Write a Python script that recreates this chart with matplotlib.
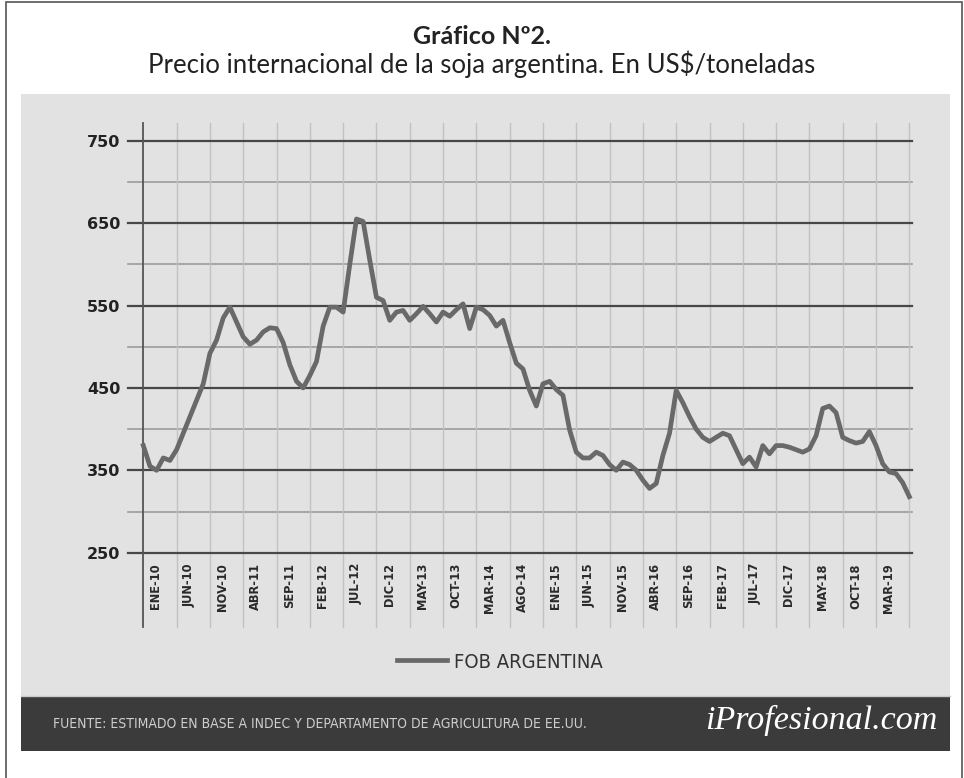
import matplotlib
matplotlib.use("Agg")
import matplotlib.pyplot as plt
from matplotlib.patches import Rectangle
from matplotlib.lines import Line2D
import numpy as np

# Monthly FOB price of Argentine soybeans, Jan-2010 .. Aug-2019 (US$/t)
prices = [
    380, 355, 350, 365, 362, 375, 395, 415, 435, 455,
    492, 508, 535, 548, 530, 512, 503, 508, 518, 523,
    522, 505, 478, 458, 450, 465, 482, 525, 548, 548,
    542, 600, 655, 652, 605, 560, 556, 532, 542, 544,
    532, 540, 549, 540, 530, 542, 537, 545, 552, 522,
    548, 545, 538, 525, 532, 505, 480, 473, 447, 428,
    455, 458, 448, 441, 399, 372, 365, 365, 372, 368,
    357, 350, 360, 357, 350, 338, 328, 334, 368, 395,
    447, 432, 415, 400, 390, 385, 390, 395, 392, 375,
    358, 366, 354, 380, 370, 380, 380, 378, 375, 372,
    376, 392, 425, 428, 420, 390, 386, 383, 385, 397,
    380, 358, 348, 346, 335, 318,
]
tick_labels = [
    "ENE-10", "JUN-10", "NOV-10", "ABR-11", "SEP-11", "FEB-12", "JUL-12", "DIC-12",
    "MAY-13", "OCT-13", "MAR-14", "AGO-14", "ENE-15", "JUN-15", "NOV-15", "ABR-16",
    "SEP-16", "FEB-17", "JUL-17", "DIC-17", "MAY-18", "OCT-18", "MAR-19",
]
major_y = [250, 350, 450, 550, 650, 750]
minor_y = [300, 400, 500, 600, 700]

W, H = 964, 778


def fx(px):
    return px / W


def fy(py):
    return 1 - py / H


fig = plt.figure(figsize=(W / 100, H / 100), dpi=100)
fig.patch.set_facecolor("white")

# outer frame, grey panel and dark footer band
fig.patches.append(Rectangle((fx(6), fy(800)), fx(956), (800 - 2) / H, transform=fig.transFigure,
                             facecolor="none", edgecolor="#555555", lw=1.2, zorder=0))
fig.patches.append(Rectangle((fx(21), fy(696)), fx(929), (696 - 94) / H, transform=fig.transFigure,
                             facecolor="#e2e2e2", edgecolor="none", zorder=0))
fig.patches.append(Rectangle((fx(21), fy(751)), fx(929), (751 - 696) / H, transform=fig.transFigure,
                             facecolor="#3b3b3b", edgecolor="none", zorder=0))
fig.lines.append(Line2D([fx(21), fx(950)], [fy(696), fy(696)], transform=fig.transFigure,
                        color="#c9c9c9", lw=1.0))

# titles
fig.text(0.5, fy(36), "Gráfico Nº2.", ha="center", va="center",
         fontsize=18, fontweight="bold", family="Lato", color="#222222")
fig.text(0.5, fy(64), "Precio internacional de la soja argentina. En US$/toneladas",
         ha="center", va="center", fontsize=18.5, family="Lato", color="#222222")

# plot area
left, right, top, bottom = 143.3, 912, 123, 552.7
ax = fig.add_axes([fx(left), fy(bottom), (right - left) / W, (bottom - top) / H])
ax.set_zorder(2)
ax.set_facecolor("#e2e2e2")
for s in ax.spines.values():
    s.set_visible(False)

x = np.arange(len(prices))
ax.set_xlim(0, 115.4)
ax.set_ylim(250, 771.5)

# horizontal grid
for v in minor_y:
    ax.axhline(v, color="#9c9c9c", lw=1.2, zorder=1, xmin=-0.02, clip_on=False)
for v in major_y:
    ax.axhline(v, color="#474747", lw=1.6, zorder=2, xmin=-0.02, clip_on=False)

# vertical grid, running down through the label area
ext = -(627 - bottom) / (bottom - top)
for k in range(1, 24):
    ax.axvline(5 * k, ymin=ext, ymax=1, color="#c2c2c2", lw=1.0, zorder=1, clip_on=False)
ax.axvline(0, ymin=ext, ymax=1, color="#555555", lw=1.3, zorder=3, clip_on=False)

ax.plot(x, prices, color="#696969", lw=3.4, solid_joinstyle="round", zorder=4, clip_on=False)

ax.set_yticks(major_y)
ax.set_yticklabels([str(v) for v in major_y])
ax.tick_params(axis="y", length=0, pad=16.5, labelsize=11.5, labelcolor="#222222")
for t in ax.get_yticklabels():
    t.set_fontweight("bold")

ax.set_xticks([5 * k + 1.9 for k in range(len(tick_labels))])
ax.set_xticklabels(tick_labels, rotation=90, fontsize=8.3, fontweight="bold", color="#2a2a2a")
ax.tick_params(axis="x", length=0, pad=7.5)

# legend
fig.legend(handles=[Line2D([], [], color="#696969", lw=3.4)], labels=["FOB ARGENTINA"],
           loc="center", bbox_to_anchor=(fx(500), fy(662)), frameon=False,
           handlelength=2.5, handletextpad=0.35,
           prop={"family": "DejaVu Sans", "stretch": "condensed", "size": 14.5}, labelcolor="#333333")

# footer
fig.text(fx(53), fy(724), "FUENTE: ESTIMADO EN BASE A INDEC Y DEPARTAMENTO DE AGRICULTURA DE EE.UU.",
         ha="left", va="center", fontsize=10, family="DejaVu Sans", stretch="condensed",
         color="#cfcfcf")
fig.text(fx(937), fy(720), "iProfesional.com", ha="right", va="center", fontsize=24.5,
         family="Liberation Serif", style="italic", color="white")

fig.savefig("out.png", dpi=100, facecolor="white")
